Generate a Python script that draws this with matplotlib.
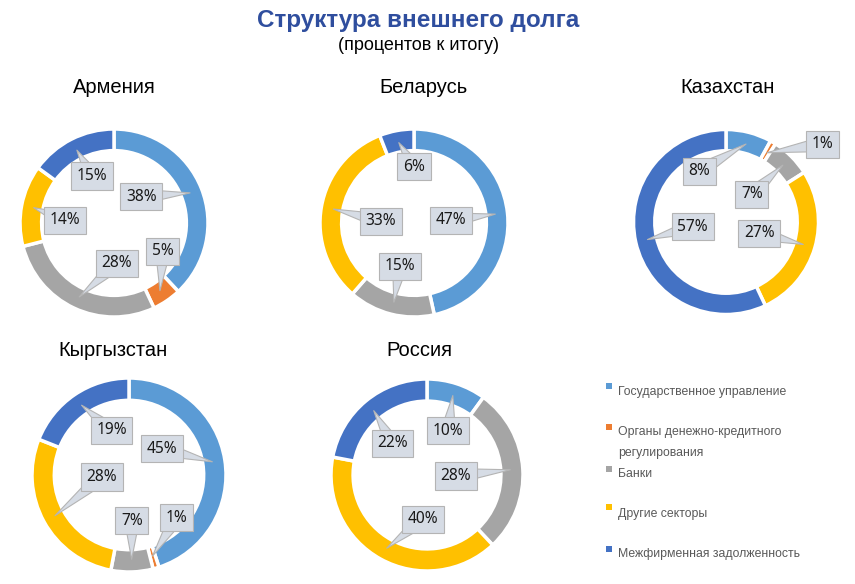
import matplotlib
matplotlib.use('Agg')
import matplotlib.pyplot as plt
from matplotlib.patches import Rectangle
import numpy as np

# Данные (проценты к итогу)
sektory = ['Государственное управление', 'Органы денежно-кредитного\nрегулирования', 'Банки',
           'Другие секторы', 'Межфирменная задолженность']
strany = ['Армения', 'Беларусь', 'Казахстан', 'Кыргызстан', 'Россия']
armenia = [38, 5, 28, 14, 15]
belarus = [47, 0, 15, 33, 6]
kazakhstan = [8, 1, 7, 27, 57]
kyrgyzstan = [45, 1, 7, 28, 19]
rossiya = [10, 0, 28, 40, 22]
dannye = [armenia, belarus, kazakhstan, kyrgyzstan, rossiya]

col = ['#5B9BD5', '#ED7D31', '#A5A5A5', '#FFC000', '#4472C4']

# Разметка: центр кольца (px), радиус (px), положение заголовка (px)
W, H = 855, 584
centry = [(114, 223, 94), (414, 223, 94), (726, 222, 92.5), (129, 475, 97), (427, 475, 96)]
zagolovki = [(114, 88), (423, 88), (728, 88), (113, 350), (419, 350)]
# положение подписей относительно центра (в радиусах)
podpisi = [
    [(0.29, 0.28), (0.52, -0.30), (0.03, -0.43), (-0.52, 0.03), (-0.23, 0.50)],
    [(0.39, 0.03), None, (-0.15, -0.46), (-0.35, 0.02), (0.0, 0.60)],
    [(-0.29, 0.55), (1.04, 0.84), (0.28, 0.30), (0.36, -0.12), (-0.36, -0.05)],
    [(0.34, 0.27), (0.49, -0.44), (0.03, -0.47), (-0.28, -0.02), (-0.18, 0.46)],
    [(0.22, 0.46), None, (0.30, -0.01), (-0.04, -0.46), (-0.36, 0.33)],
]

fig = plt.figure(figsize=(W / 100, H / 100), dpi=100)
fig.patch.set_facecolor('white')

fig.text(418 / W, 1 - 20 / H, 'Структура внешнего долга', ha='center', va='center',
         fontsize=17.5, fontweight='bold', color='#2F4E9E', family='Liberation Sans')
fig.text(418 / W, 1 - 45 / H, '(процентов к итогу)', ha='center', va='center',
         fontsize=13, color='black', family='Liberation Sans')

for i, strana in enumerate(strany):
    cx, cy, r = centry[i]
    lim = 1.6
    ax = fig.add_axes([(cx - lim * r) / W, 1 - (cy + lim * r) / H, 2 * lim * r / W, 2 * lim * r / H])
    vals = [v for v in dannye[i] if v > 0]
    cols = [col[k] for k, v in enumerate(dannye[i]) if v > 0]
    ax.pie(vals, colors=cols, startangle=90, counterclock=False, radius=1,
           wedgeprops=dict(width=0.23, edgecolor='white', linewidth=2.5))
    ax.set_xlim(-lim, lim)
    ax.set_ylim(-lim, lim)
    ax.axis('off')

    total = float(sum(dannye[i]))
    cum = 0.0
    for k, v in enumerate(dannye[i]):
        if v == 0:
            continue
        ang = np.deg2rad(90 - 360 * (cum + v / 2) / total)
        cum += v
        tip = (0.87 * np.cos(ang), 0.87 * np.sin(ang))
        ax.annotate('%d%%' % v, xy=tip, xytext=podpisi[i][k], ha='center', va='center',
                    fontsize=11.2, family='Noto Sans', color='#1A1A1A', annotation_clip=False,
                    bbox=dict(boxstyle='square,pad=0.36', fc='#D6DCE5', ec='#B4B4B4', lw=0.8),
                    arrowprops=dict(arrowstyle='wedge,tail_width=0.95,shrink_factor=0.5',
                                    fc='#D6DCE5', ec='#B4B4B4', lw=0.8,
                                    patchA=None, shrinkA=0, shrinkB=0))

    tx, ty = zagolovki[i]
    fig.text(tx / W, 1 - ty / H, strana, ha='center', va='center', fontsize=14.5,
             color='black', family='Liberation Sans')

# Легенда
leg_y = [392, 426, 474, 514, 554]
mark_y = [386, 427, 469, 507, 549]
for k, s in enumerate(sektory):
    fig.patches.append(Rectangle((606 / W, 1 - (mark_y[k] + 3) / H), 6 / W, 6 / H,
                                 transform=fig.transFigure, fc=col[k], ec='none'))
    fig.text(618 / W, 1 - leg_y[k] / H, s, ha='left', va='center' if k != 1 else 'top',
             fontsize=8.8, color='#595959', family='Liberation Sans', linespacing=2.0)

plt.savefig('out.png', dpi=100)
